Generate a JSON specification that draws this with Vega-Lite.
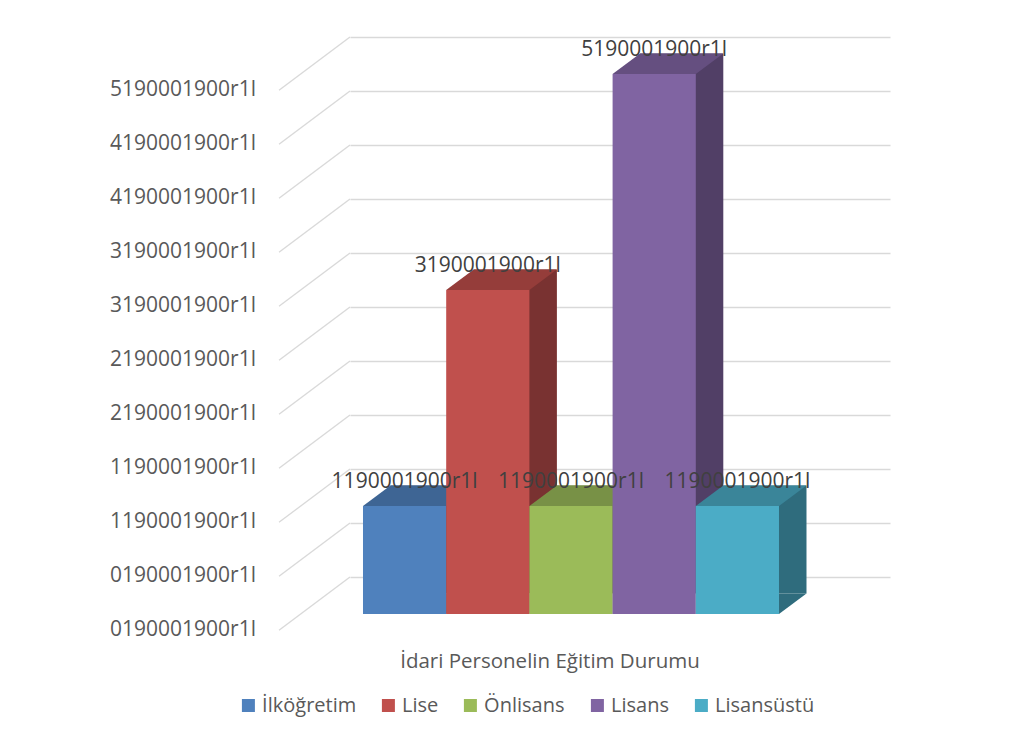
{
  "$schema": "https://vega.github.io/schema/vega-lite/v6.json",
  "autosize": {"type": "none"},
  "width": 540,
  "height": 540,
  "padding": {"left": 350, "top": 37, "right": 139, "bottom": 163},
  "background": "#ffffff",
  "config": {"view": {"stroke": null}, "font": "Open Sans"},
  "title": {
    "text": "İdari Personelin Eğitim Durumu", "orient": "bottom", "anchor": "middle", "frame": "group",
    "dx": -70, "offset": -47.5, "baseline": "alphabetic",
    "font": "Open Sans", "fontSize": 20.5, "fontWeight": "normal", "color": "#595959"
  },
  "datasets": {
    "bars": [
      {"series": "İlköğretim", "value": 1, "label": "1190001900r1l"},
      {"series": "Lise", "value": 3, "label": "3190001900r1l"},
      {"series": "Önlisans", "value": 1, "label": "1190001900r1l"},
      {"series": "Lisans", "value": 5, "label": "5190001900r1l"},
      {"series": "Lisansüstü", "value": 1, "label": "1190001900r1l"}
    ],
    "ticks": [
      {"v": 0}, {"v": 0.5}, {"v": 1}, {"v": 1.5}, {"v": 2}, {"v": 2.5},
      {"v": 3}, {"v": 3.5}, {"v": 4}, {"v": 4.5}, {"v": 5}
    ]
  },
  "resolve": {"scale": {"color": "independent"}, "axis": {"y": "independent"}},
  "layer": [
    {
      "data": {"name": "ticks"},
      "mark": {"type": "point", "shape": "M -270 0 L -341 53.3", "size": 4, "filled": false, "color": "#D9D9D9", "strokeWidth": 1.3, "opacity": 1},
      "encoding": {
        "y": {
          "field": "v", "type": "quantitative",
          "scale": {"domain": [0, 5], "nice": false, "zero": true},
          "axis": {
            "orient": "left", "values": [0, 0.5, 1, 1.5, 2, 2.5, 3, 3.5, 4, 4.5, 5],
            "labelExpr": "floor(datum.value) + '190001900r1l'",
            "grid": false, "ticks": false, "tickSize": 0, "domain": false,
            "labelPadding": 23, "offset": 124.3, "translate": 53.3,
            "labelFont": "Open Sans", "labelFontSize": 21, "labelColor": "#595959",
            "labelOverlap": false, "labelFlush": false, "labelBound": false, "title": null
          }
        }
      }
    },
    {
      "data": {"name": "bars"},
      "mark": {"type": "bar", "xOffset": 27.5, "yOffset": 16.5, "y2Offset": 16.5},
      "encoding": {
        "x": {
          "field": "series", "type": "nominal",
          "scale": {"domain": ["İlköğretim", "Lise", "Önlisans", "Lisans", "Lisansüstü"], "paddingInner": 0, "paddingOuter": 0.7452, "align": 0.1048},
          "axis": null
        },
        "y": {
          "field": "value", "type": "quantitative",
          "scale": {"domain": [0, 5], "nice": false, "zero": true},
          "axis": {
            "orient": "right", "values": [0, 0.5, 1, 1.5, 2, 2.5, 3, 3.5, 4, 4.5, 5],
            "grid": true, "gridColor": "#D9D9D9", "gridWidth": 1.3,
            "labels": false, "ticks": false, "domain": false, "title": null
          }
        },
        "y2": {"datum": 0},
        "color": {
          "field": "series", "type": "nominal",
          "scale": {"domain": ["İlköğretim", "Lise", "Önlisans", "Lisans", "Lisansüstü"], "range": ["#325177", "#793231", "#627638", "#513F66", "#2F6C7D"]},
          "legend": null
        }
      }
    },
    {
      "data": {"name": "bars"},
      "mark": {"type": "point", "shape": "M 41.6 0 L 41.6 -20.5 L 69.1 -20.5 Z", "size": 4, "filled": true, "opacity": 1, "yOffset": 37},
      "encoding": {
        "x": {"field": "series", "type": "nominal", "axis": null},
        "y": {"datum": 0, "type": "quantitative", "axis": null},
        "color": {
          "field": "series", "type": "nominal",
          "scale": {"domain": ["İlköğretim", "Lise", "Önlisans", "Lisans", "Lisansüstü"], "range": ["#325177", "#793231", "#627638", "#513F66", "#2F6C7D"]},
          "legend": null
        }
      }
    },
    {
      "data": {"name": "bars"},
      "mark": {"type": "point", "shape": "M -41.6 0 L 41.6 0 L 69.1 -20.5 L -14.1 -20.5 Z", "size": 4, "filled": true, "opacity": 1, "yOffset": 37},
      "encoding": {
        "x": {"field": "series", "type": "nominal", "axis": null},
        "y": {"field": "value", "type": "quantitative", "axis": null},
        "color": {
          "field": "series", "type": "nominal",
          "scale": {"domain": ["İlköğretim", "Lise", "Önlisans", "Lisans", "Lisansüstü"], "range": ["#3E6594", "#953D3A", "#789146", "#654F80", "#3A8599"]},
          "legend": null
        }
      }
    },
    {
      "data": {"name": "bars"},
      "mark": {"type": "bar", "yOffset": 37, "y2Offset": 37},
      "encoding": {
        "x": {"field": "series", "type": "nominal", "axis": null},
        "y": {"field": "value", "type": "quantitative", "axis": null},
        "y2": {"datum": 0},
        "color": {
          "field": "series", "type": "nominal",
          "scale": {"domain": ["İlköğretim", "Lise", "Önlisans", "Lisans", "Lisansüstü"], "range": ["#4F81BD", "#C0504D", "#9BBB59", "#8064A2", "#4BACC6"]},
          "legend": {
            "orient": "none", "legendX": -111.6, "legendY": 658.5, "direction": "horizontal", "title": null,
            "symbolType": "square", "symbolSize": 169, "symbolStrokeWidth": 0, "symbolOpacity": 1,
            "labelFont": "Open Sans", "labelFontSize": 20, "labelColor": "#595959",
            "labelOffset": 3.7, "columnPadding": 22, "padding": 0
          }
        }
      }
    },
    {
      "data": {"name": "bars"},
      "mark": {"type": "text", "font": "Open Sans", "fontSize": 21, "color": "#404040", "baseline": "alphabetic", "yOffset": 19.3},
      "encoding": {
        "x": {"field": "series", "type": "nominal", "axis": null},
        "y": {"field": "value", "type": "quantitative", "axis": null},
        "text": {"field": "label"}
      }
    }
  ]
}
